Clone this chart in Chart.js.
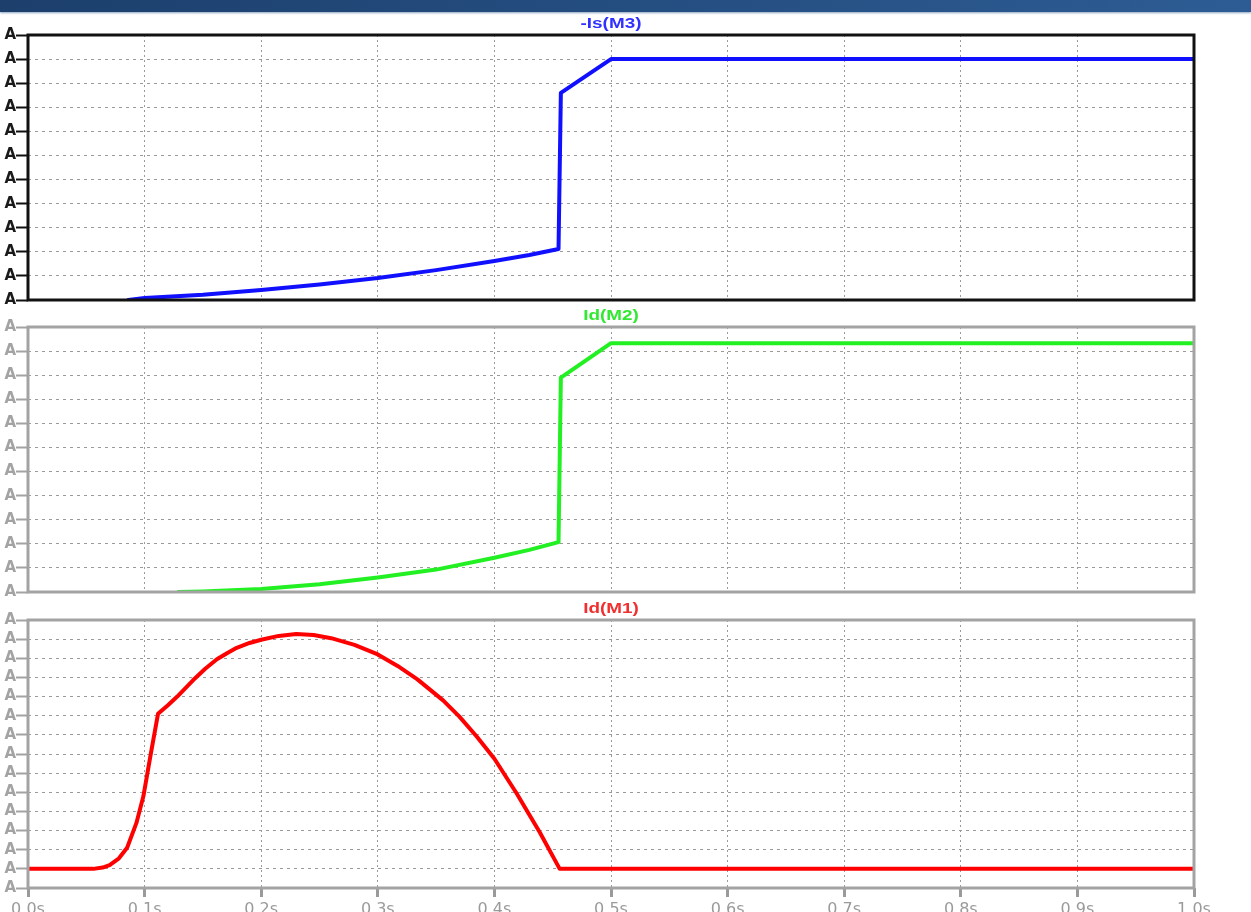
<!DOCTYPE html>
<html>
<head>
<meta charset="utf-8">
<script src="https://cdn.jsdelivr.net/npm/chart.js@4.4.1/dist/chart.umd.min.js"></script>
<style>
  html, body { margin: 0; padding: 0; background: #ffffff; width: 1251px; height: 912px; overflow: hidden; }
  #banner { position: absolute; left: 0; top: 0; width: 1251px; height: 12px;
    background: linear-gradient(to right, #1c3f6c, #2d5c94);
    box-shadow: 0 1px 2px rgba(60,100,150,0.6); }
  .pane { position: absolute; left: 0; width: 1251px; }
  canvas { display: block; }
</style>
</head>
<body>
<div id="banner"></div>
<div class="pane" style="top:0px;height:312px"><canvas id="c1" width="1251" height="312"></canvas></div>
<div class="pane" style="top:305px;height:300px"><canvas id="c2" width="1251" height="300"></canvas></div>
<div class="pane" style="top:595px;height:330px"><canvas id="c3" width="1251" height="330"></canvas></div>
<script>
// Transient simulation, time axis in seconds
const xTicks = [0, 0.1, 0.2, 0.3, 0.4, 0.5, 0.6, 0.7, 0.8, 0.9, 1.0];

// -Is(M3)
const tM3 = [0.086, 0.1, 0.15, 0.2, 0.25, 0.3, 0.35, 0.4, 0.43, 0.455, 0.457, 0.5, 1.0];
const iM3 = [0, 0.08, 0.22, 0.42, 0.64, 0.91, 1.24, 1.62, 1.87, 2.12, 8.6, 10.0, 10.0];

// Id(M2)
const tM2 = [0.129, 0.15, 0.2, 0.25, 0.3, 0.35, 0.4, 0.43, 0.455, 0.457, 0.5, 1.0];
const iM2 = [0, 0.02, 0.12, 0.32, 0.6, 0.93, 1.42, 1.75, 2.07, 8.9, 10.33, 10.33];

// Id(M1)
const tM1 = [0, 0.056, 0.064, 0.07, 0.078, 0.085, 0.093, 0.099, 0.105, 0.1115, 0.12, 0.128, 0.1415,
             0.152, 0.162, 0.171, 0.179, 0.19, 0.2, 0.215, 0.23, 0.245, 0.26, 0.28, 0.3, 0.317,
             0.334, 0.356, 0.37, 0.385, 0.4, 0.419, 0.439, 0.456, 1.0];
const iM1 = [1, 1, 1.07, 1.2, 1.55, 2.1, 3.4, 4.8, 6.9, 9.1, 9.55, 10.0, 10.85,
             11.45, 11.95, 12.28, 12.55, 12.8, 12.97, 13.17, 13.27, 13.22, 13.05, 12.7, 12.2, 11.6,
             10.9, 9.8, 8.95, 7.9, 6.75, 4.95, 2.9, 1.0, 1.0];

// Vertical divisions per pane
const yDivs = [11, 11, 14];
const titles = ['-Is(M3)', 'Id(M2)', 'Id(M1)'];
const traceColors = ['#1010ff', '#22f022', '#ff0000'];
const titleColors = ['#3030ff', '#33e833', '#f03030'];

const toPoints = (ts, vs) => ts.map((t, i) => ({ x: t, y: vs[i] }));

// Pane frame and trace name above it
const framePlugin = {
  id: 'paneFrame',
  afterDatasetsDraw(chart, args, opts) {
    const { ctx, chartArea: a } = chart;
    ctx.save();
    ctx.lineWidth = 3;
    ctx.strokeStyle = opts.color;
    ctx.strokeRect(a.left, a.top, a.right - a.left, a.bottom - a.top);
    ctx.translate((a.left + a.right) / 2, a.top - 4);
    ctx.scale(1.35, 1);
    ctx.font = 'bold 14px "Liberation Sans", Arial, sans-serif';
    ctx.textAlign = 'center';
    ctx.textBaseline = 'bottom';
    ctx.fillStyle = opts.titleColor;
    ctx.fillText(opts.title, 0, 0);
    ctx.restore();
  }
};

function makePane(id, idx, pts, active, pad, showX) {
  const axisColor = active ? '#111111' : '#a3a3a3';
  return new Chart(document.getElementById(id), {
    type: 'line',
    data: {
      datasets: [{
        data: pts,
        borderColor: traceColors[idx],
        borderWidth: 4,
        pointRadius: 0,
        tension: 0,
        borderJoinStyle: 'round',
        borderCapStyle: 'round'
      }]
    },
    options: {
      responsive: false,
      animation: false,
      devicePixelRatio: 1,
      layout: { padding: { top: pad.top, bottom: pad.bottom, left: 0, right: 57 } },
      plugins: {
        legend: { display: false },
        tooltip: { enabled: false },
        paneFrame: { color: axisColor, title: titles[idx], titleColor: titleColors[idx] }
      },
      scales: {
        x: {
          type: 'linear',
          min: 0, max: 1,
          afterBuildTicks(scale) { scale.ticks = xTicks.map(v => ({ value: v })); },
          afterFit(scale) { scale.height = showX ? 37 : 0; },
          border: { display: false, dash: [2, 3] },
          grid: { color: '#9a9a9a', lineWidth: 1, drawTicks: showX, tickLength: 9, tickColor: '#9a9a9a', tickWidth: 3, tickBorderDash: [] },
          ticks: {
            display: showX,
            padding: 3,
            color: '#9a9a9a',
            font: { family: '"DejaVu Sans", sans-serif', size: 16 },
            callback: v => v.toFixed(1) + 's',
            maxRotation: 0,
            autoSkip: false
          }
        },
        y: {
          min: 0, max: yDivs[idx],
          afterFit(scale) { scale.width = 28; },
          border: { display: false, dash: [3, 4] },
          grid: { color: '#9a9a9a', lineWidth: 1, drawTicks: true, tickLength: 12, tickColor: axisColor, tickWidth: 2, tickBorderDash: [] },
          ticks: {
            stepSize: 1,
            autoSkip: false,
            padding: 0,
            color: active ? '#1a1a1a' : '#a3a3a3',
            font: { family: '"DejaVu Sans", sans-serif', size: 15, weight: 'bold' },
            callback: () => 'A'
          }
        }
      }
    },
    plugins: [framePlugin]
  });
}

makePane('c1', 0, toPoints(tM3, iM3), true, { top: 35, bottom: 12 }, false);
makePane('c2', 1, toPoints(tM2, iM2), false, { top: 22, bottom: 13 }, false);
makePane('c3', 2, toPoints(tM1, iM1), false, { top: 25, bottom: 0 }, true);
</script>
</body>
</html>
